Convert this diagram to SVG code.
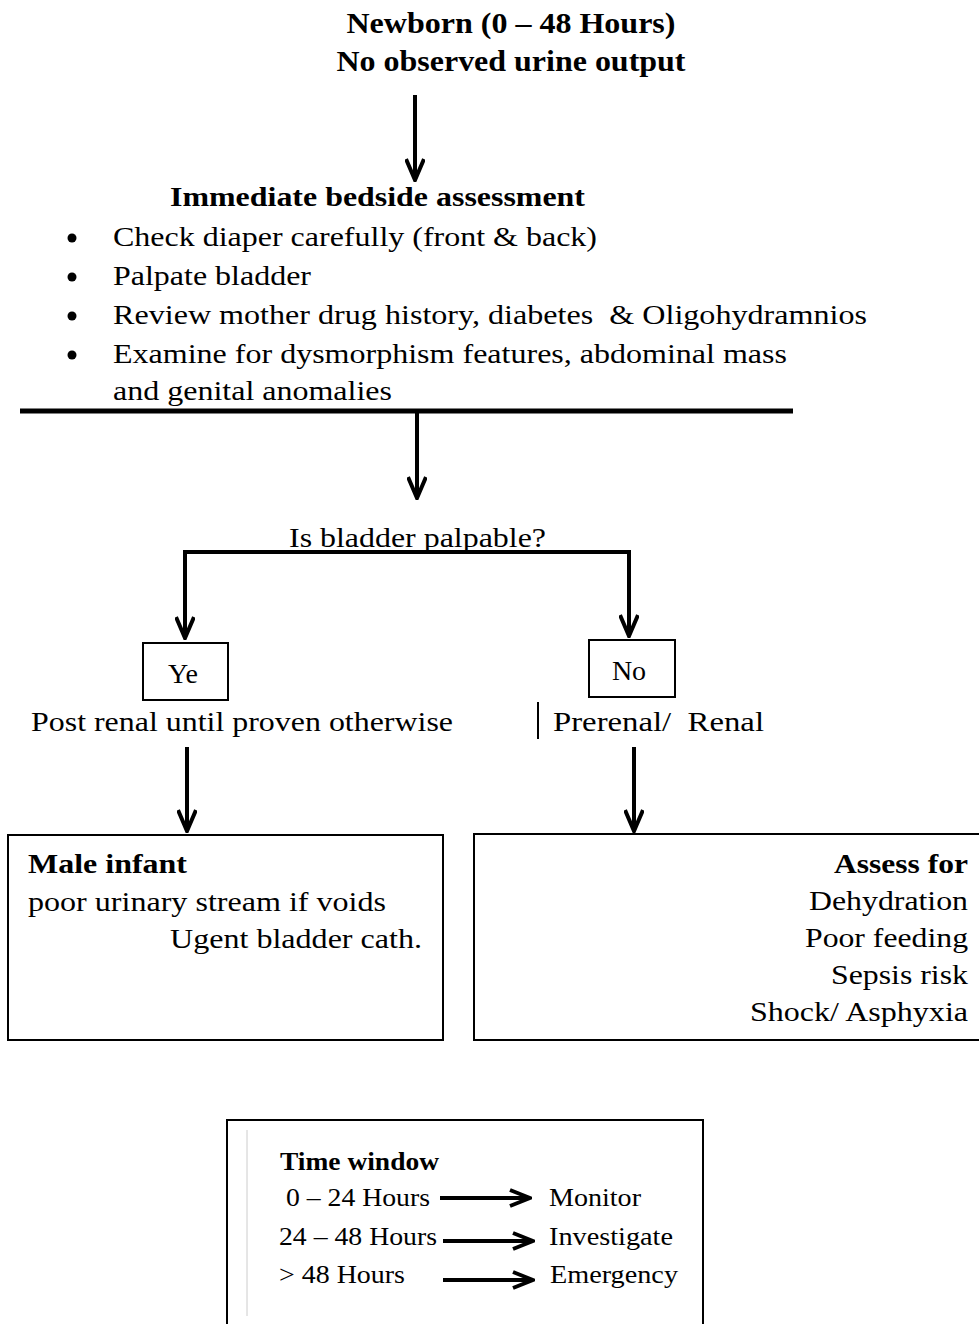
<svg xmlns="http://www.w3.org/2000/svg" width="979" height="1324" viewBox="0 0 979 1324" font-family="'Liberation Serif', 'Times New Roman', Times, serif">
<defs>
<style>
text{font-family:'Liberation Serif','Times New Roman',Times,serif;fill:#000}
.t{font-size:30px;font-weight:bold}
.h{font-size:28px;font-weight:bold}
.b{font-size:28px}
.s{font-size:25px}
.sb{font-size:25px;font-weight:bold}
.ln{stroke:#000;stroke-width:4;fill:none}
.box{fill:#fff;stroke:#000;stroke-width:2}
</style>
<marker id="chev" viewBox="0 0 24 20" refX="22" refY="10" markerWidth="24" markerHeight="20" markerUnits="userSpaceOnUse" orient="auto-start-reverse">
<path d="M1,1 L22,10 L1,19" fill="none" stroke="#000" stroke-width="4"/>
</marker>
<marker id="harr" viewBox="0 0 24 20" refX="22" refY="10" markerWidth="24" markerHeight="20" markerUnits="userSpaceOnUse" orient="auto">
<path d="M2,2 L22,10 L2,18" fill="none" stroke="#000" stroke-width="4"/>
</marker>
</defs>

<g id="start">
<text class="t" x="511" y="33" text-anchor="middle" textLength="329" lengthAdjust="spacingAndGlyphs">Newborn (0 – 48 Hours)</text>
<text class="t" x="511" y="71" text-anchor="middle" textLength="349" lengthAdjust="spacingAndGlyphs">No observed urine output</text>
</g>

<g id="assessment">
<text class="h" x="170" y="206" textLength="415" lengthAdjust="spacingAndGlyphs">Immediate bedside assessment</text>
<circle cx="72" cy="238" r="4.5"/>
<circle cx="72" cy="277" r="4.5"/>
<circle cx="72" cy="316" r="4.5"/>
<circle cx="72" cy="355" r="4.5"/>
<text class="b" x="113" y="246" textLength="484" lengthAdjust="spacingAndGlyphs">Check diaper carefully (front &amp; back)</text>
<text class="b" x="113" y="285" textLength="198" lengthAdjust="spacingAndGlyphs">Palpate bladder</text>
<text class="b" x="113" y="324" textLength="754" lengthAdjust="spacingAndGlyphs" xml:space="preserve">Review mother drug history, diabetes  &amp; Oligohydramnios</text>
<text class="b" x="113" y="363" textLength="674" lengthAdjust="spacingAndGlyphs">Examine for dysmorphism features, abdominal mass</text>
<text class="b" x="113" y="400" textLength="279" lengthAdjust="spacingAndGlyphs">and genital anomalies</text>
<line x1="20" y1="411" x2="793" y2="411" stroke="#000" stroke-width="5"/>
</g>

<g id="question">
<text class="b" x="289" y="547" textLength="257" lengthAdjust="spacingAndGlyphs">Is bladder palpable?</text>
</g>

<g id="yes">
<rect class="box" x="143" y="643" width="85" height="57"/>
<text class="b" x="183" y="683" text-anchor="middle">Ye</text>
<text class="b" x="31" y="731" textLength="422" lengthAdjust="spacingAndGlyphs">Post renal until proven otherwise</text>
</g>

<g id="no">
<rect class="box" x="589" y="640" width="86" height="57"/>
<text class="b" x="629" y="680" text-anchor="middle">No</text>
<line x1="538" y1="702" x2="538" y2="739" stroke="#000" stroke-width="2"/>
<text class="b" x="553" y="731" textLength="211" lengthAdjust="spacingAndGlyphs" xml:space="preserve">Prerenal/  Renal</text>
</g>

<g id="male">
<rect class="box" x="8" y="835" width="435" height="205"/>
<text class="h" x="28" y="873" textLength="159" lengthAdjust="spacingAndGlyphs">Male infant</text>
<text class="b" x="28" y="911" textLength="358" lengthAdjust="spacingAndGlyphs">poor urinary stream if voids</text>
<text class="b" x="170" y="948" textLength="252" lengthAdjust="spacingAndGlyphs">Ugent bladder cath.</text>
</g>

<g id="assessfor">
<rect class="box" x="474" y="834" width="510" height="206"/>
<text class="h" x="834" y="873" textLength="134" lengthAdjust="spacingAndGlyphs">Assess for</text>
<text class="b" x="809" y="910" textLength="159" lengthAdjust="spacingAndGlyphs">Dehydration</text>
<text class="b" x="805" y="947" textLength="163" lengthAdjust="spacingAndGlyphs">Poor feeding</text>
<text class="b" x="831" y="984" textLength="137" lengthAdjust="spacingAndGlyphs">Sepsis risk</text>
<text class="b" x="750" y="1021" textLength="218" lengthAdjust="spacingAndGlyphs">Shock/ Asphyxia</text>
</g>

<g id="timewindow">
<rect class="box" x="227" y="1120" width="476" height="210"/>
<line x1="247" y1="1130" x2="247" y2="1316" stroke="#ccc" stroke-width="1"/>
<text class="sb" x="280" y="1170" textLength="159" lengthAdjust="spacingAndGlyphs">Time window</text>
<text class="s" x="286" y="1206" textLength="144" lengthAdjust="spacingAndGlyphs">0 – 24 Hours</text>
<text class="s" x="279" y="1245" textLength="158" lengthAdjust="spacingAndGlyphs">24 – 48 Hours</text>
<text class="s" x="279" y="1283" textLength="126" lengthAdjust="spacingAndGlyphs">&gt; 48 Hours</text>
<text class="s" x="549" y="1206" textLength="92" lengthAdjust="spacingAndGlyphs">Monitor</text>
<text class="s" x="549" y="1245" textLength="124" lengthAdjust="spacingAndGlyphs">Investigate</text>
<text class="s" x="550" y="1283" textLength="128" lengthAdjust="spacingAndGlyphs">Emergency</text>
<line x1="440" y1="1198" x2="530" y2="1198" class="ln" marker-end="url(#harr)"/>
<line x1="443" y1="1241" x2="533" y2="1241" class="ln" marker-end="url(#harr)"/>
<line x1="443" y1="1280" x2="533" y2="1280" class="ln" marker-end="url(#harr)"/>
</g>

<g id="connectors">
<line class="ln" x1="415" y1="95" x2="415" y2="180" marker-end="url(#chev)"/>
<line class="ln" x1="417" y1="413" x2="417" y2="498" marker-end="url(#chev)"/>
<polyline class="ln" points="185,638 185,552 629,552 629,636" marker-start="url(#chev)" marker-end="url(#chev)"/>
<line class="ln" x1="187" y1="747" x2="187" y2="831" marker-end="url(#chev)"/>
<line class="ln" x1="634" y1="747" x2="634" y2="831" marker-end="url(#chev)"/>
</g>
</svg>
